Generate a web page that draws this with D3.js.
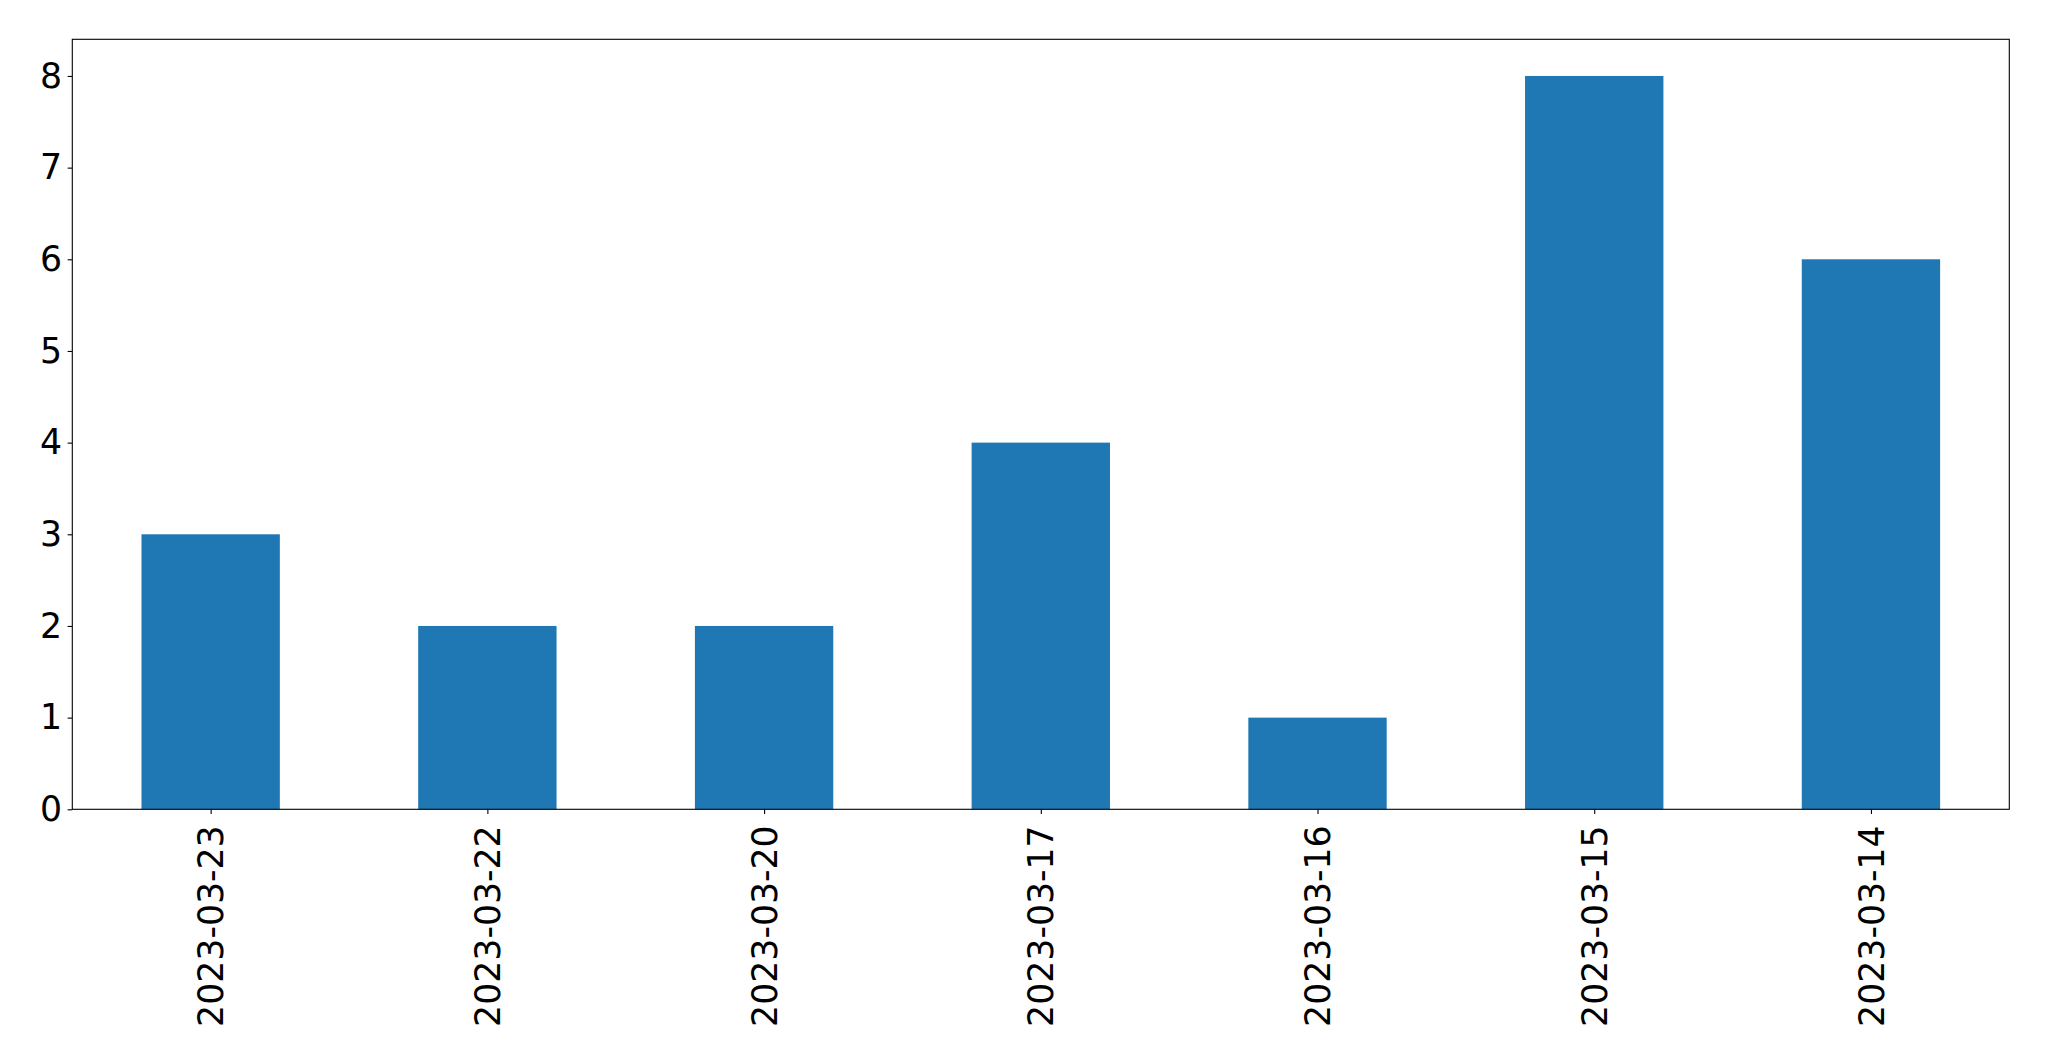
<!DOCTYPE html>
<html><head><meta charset="utf-8">
<script src="https://cdn.jsdelivr.net/npm/d3@7"></script>
<style>body{margin:0;background:#fff}svg{display:block}text{font-family:"DejaVu Sans",sans-serif}</style>
</head><body>
<svg id="c" width="2049" height="1061"></svg>
<script>
const categories = ["2023-03-23","2023-03-22","2023-03-20","2023-03-17","2023-03-16","2023-03-15","2023-03-14"];
const values = [3,2,2,4,1,8,6];
const yTicks = [0,1,2,3,4,5,6,7,8];

const svg = d3.select("#c");
const L=72.3, R=2009.3, T=39.3, B=809.3;
const x = d3.scaleLinear().domain([-0.5, categories.length-0.5]).range([L,R]);
const y = d3.scaleLinear().domain([0, 8.4]).range([B,T]);
const bw = 0.5;

svg.append("g").selectAll("rect").data(values).join("rect")
  .attr("x",(d,i)=>x(i-bw/2)).attr("width",(d,i)=>x(i+bw/2)-x(i-bw/2))
  .attr("y",d=>y(d)).attr("height",d=>y(0)-y(d)).attr("fill","#1f77b4");

const ya = svg.append("g").attr("transform",`translate(${L},0)`)
  .call(d3.axisLeft(y).tickValues(yTicks).tickFormat(d3.format("d")).tickSize(4.67).tickPadding(5.5));
ya.select(".domain").remove();
ya.selectAll("line").attr("stroke","#000").attr("stroke-width",1.1);
ya.selectAll("text").attr("font-size",34.7).attr("fill","#000").attr("font-family","DejaVu Sans");

const xa = svg.append("g").attr("transform",`translate(0,${B})`)
  .call(d3.axisBottom(x).tickValues(d3.range(categories.length)).tickFormat(i=>categories[i]).tickSize(4.67).tickPadding(0));
xa.select(".domain").remove();
xa.selectAll("line").attr("stroke","#000").attr("stroke-width",1.1);
xa.selectAll("text").attr("font-size",34.7).attr("fill","#000").attr("font-family","DejaVu Sans")
  .attr("text-anchor","end").attr("dy","0.35em").attr("y",0)
  .attr("transform","translate(0,16) rotate(-90)");

svg.append("rect").attr("x",L).attr("y",T).attr("width",R-L).attr("height",B-T)
  .attr("fill","none").attr("stroke","#000").attr("stroke-width",1.1);
</script>
</body></html>
